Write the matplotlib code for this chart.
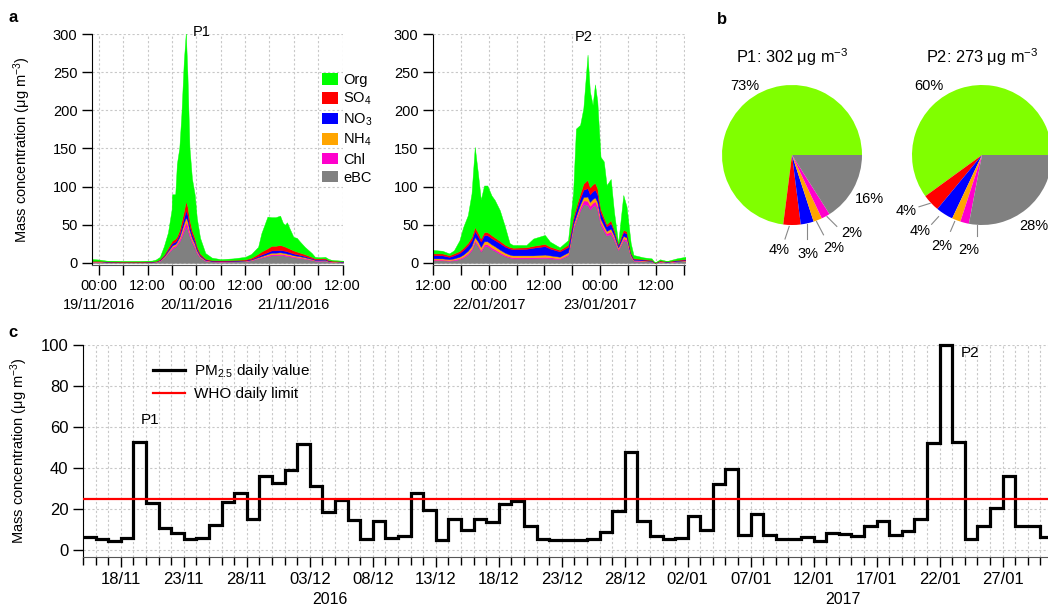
import datetime as dt
import numpy as np
import matplotlib
matplotlib.use("Agg")
import matplotlib.pyplot as plt
import matplotlib.dates as mdates
import matplotlib.transforms as mtransforms
from matplotlib.patches import Patch
from matplotlib.lines import Line2D
from matplotlib.ticker import FixedLocator, MultipleLocator

plt.rcParams['font.family'] = ['Liberation Sans', 'DejaVu Sans']
plt.rcParams['mathtext.fontset'] = 'custom'
plt.rcParams['mathtext.rm'] = 'Liberation Sans'
plt.rcParams['mathtext.it'] = 'Liberation Sans:italic'
plt.rcParams['mathtext.bf'] = 'Liberation Sans:bold'
plt.rcParams['font.size'] = 10

# ---------------- data ----------------
species = ["Org", "SO$_4$", "NO$_3$", "NH$_4$", "Chl", "eBC"]

# Episode P1: hours after 19/11/2016 00:00, concentrations in ug m-3
p1_hours = [-2, 0, 2, 6, 10, 13, 14, 15, 16, 17,
            17.9, 18.0, 18.8, 19.2, 19.8, 20.3, 20.9, 21.4, 21.8, 22.3,
            22.9, 23.6, 24.1, 24.9, 26.2, 27.8, 30, 33, 36, 37.5,
            39.2, 40, 41.5, 42.5, 43.5, 44.6, 45.3, 45.8, 46.3, 47,
            47.9, 48.7, 49.5, 50.7, 52.4, 53.2, 54.5, 55.7, 56.5, 57.3,
            60, 61]
p1_ebc = [1.5, 1.5, 1.2, 1.0, 1.0, 1.2, 1.5, 3, 7, 13,
          18, 19, 21, 24, 28, 34, 42, 48, 44, 35,
          27, 20, 13, 7, 3, 2, 1.8, 2, 2.5, 3.5,
          6, 7, 9, 10, 10, 10.5, 10, 9.5, 9, 8.5,
          7.5, 7, 6.5, 5.5, 4, 3, 3, 3.2, 2, 1.5,
          1.2, 1.2]
p1_chl = [0.3, 0.3, 0.2, 0.2, 0.2, 0.2, 0.2, 0.4, 0.8, 1.3,
          2, 2, 2, 2, 3, 4, 5, 6, 5.5, 4,
          3, 2.5, 1.8, 1, 0.5, 0.3, 0.3, 0.3, 0.3, 0.5,
          0.8, 1, 1.2, 1.5, 1.5, 1.5, 1.5, 1.5, 1.5, 1.4,
          1.2, 1.1, 1, 0.9, 0.6, 0.5, 0.5, 0.5, 0.3, 0.3,
          0.2, 0.2]
p1_nh4 = [0.3, 0.3, 0.2, 0.2, 0.2, 0.2, 0.2, 0.4, 0.8, 1.3,
          2, 2, 2, 2, 3, 4, 5, 6, 5.5, 4,
          3, 2.5, 1.8, 1, 0.5, 0.3, 0.3, 0.3, 0.3, 0.5,
          0.8, 1, 1.5, 2, 2, 2, 2, 2, 1.8, 1.7,
          1.5, 1.4, 1.3, 1.1, 0.7, 0.5, 0.5, 0.5, 0.3, 0.3,
          0.2, 0.2]
p1_no3 = [0.3, 0.3, 0.2, 0.2, 0.2, 0.2, 0.3, 0.5, 1, 2,
          3, 3, 3, 3, 4, 5, 7, 9, 8, 6,
          4.5, 3.5, 2.5, 1.5, 0.7, 0.5, 0.4, 0.5, 0.6, 0.8,
          1.5, 2, 2.5, 3, 3, 3, 3, 3, 3, 2.5,
          2.2, 2, 1.8, 1.5, 1, 0.8, 0.8, 0.8, 0.5, 0.4,
          0.3, 0.3]
p1_so4 = [0.4, 0.4, 0.3, 0.3, 0.3, 0.3, 0.3, 0.7, 1.4, 2.4,
          3, 3, 4, 4, 5, 7, 9, 12, 11, 8,
          5.5, 4, 3, 2, 1, 0.7, 0.7, 0.9, 1, 1.5,
          3, 4, 5, 6, 6, 6.5, 6, 5.5, 5, 4.5,
          4, 3.5, 3, 2.5, 1.7, 1.2, 1.2, 1.3, 0.8, 0.6,
          0.5, 0.5]
p1_org = [2.5, 1.7, 0.9, 0.6, 0.6, 1.0, 2, 3, 11, 20,
          42, 61, 58, 95, 108, 140, 196, 221, 172, 94,
          68, 56.5, 37, 20.5, 7.3, 3.2, 1.5, 2, 3.3, 5,
          9, 24, 41.5, 37.5, 37.5, 38.5, 30, 28.5, 33, 26,
          17.6, 18, 14.4, 9.5, 5, 2, 1.5, 1.7, 1.5, 0.9,
          0.6, 0.6]

# Episode P2: hours after 22/01/2017 00:00
p2_hours = [-12, -10, -8.5, -7.5, -6.3, -5.5, -4.5, -3.7, -3.0, -2.3,
            -1.7, -1.0, -0.3, 0.6, 1.3, 2.4, 3.5, 4.5, 5.2, 8.1,
            9.6, 12.1, 13.2, 15.3, 17.1, 18.2, 18.8, 19.7, 20.4, 21.3,
            21.8, 22.4, 22.9, 23.4, 24.1, 24.8, 25.4, 26.3, 27.0, 27.9,
            29.0, 29.7, 30.6, 31.2, 33.3, 35.1, 35.8, 36.9, 38.4, 40.5,
            42.3, 43]
p2_ebc = [3.5, 3.5, 3, 3.5, 5, 7, 11, 17, 28, 22,
          15, 22, 22, 18, 16, 12, 9, 7, 6, 6,
          6, 6.5, 6, 5, 10, 45, 55, 69, 77, 76,
          70, 74, 76, 70, 50, 42, 36, 38, 30, 17,
          30, 28, 8, 3, 2.5, 2, 0.2, 1.7, 1, 2,
          2.5, 2.5]
p2_chl = [1, 1, 0.8, 1, 1.2, 1.5, 2, 2, 2, 2,
          2, 2.5, 2.5, 2.5, 2, 2, 1.5, 1.5, 1.5, 1.5,
          1.5, 1.5, 1.5, 1.2, 1.5, 2.5, 3, 4, 5, 5.5,
          5, 5, 5, 5, 4, 3.5, 3, 3.5, 3, 1.5,
          2.5, 2.5, 1, 0.5, 0.4, 0.3, 0.05, 0.3, 0.2, 0.3,
          0.4, 0.4]
p2_nh4 = [1.5, 1.5, 1.2, 1.5, 2, 2.5, 3, 3.5, 4, 4,
          4, 4, 4, 4, 4, 3.5, 3, 2.5, 2.5, 2.5,
          2.5, 3, 2.5, 2, 2.5, 3, 3.5, 4, 4.5, 5.5,
          5, 5, 5, 5, 4, 3.5, 3, 3.5, 3, 2,
          3, 3, 1.5, 0.7, 0.5, 0.4, 0.05, 0.3, 0.2, 0.4,
          0.5, 0.5]
p2_no3 = [4, 4, 3, 4, 5, 6, 7, 7.5, 8, 7,
          7, 8, 8, 8, 8, 8.5, 8, 8, 8, 8.5,
          10, 11, 9, 7, 7, 6, 7, 8, 9.5, 11,
          10, 10, 10, 10, 8, 7, 6, 7, 5, 3,
          5, 5, 2, 1.3, 1, 0.8, 0.05, 0.6, 0.4, 0.8,
          1, 1]
p2_so4 = [2.5, 2.5, 2, 2.5, 2.5, 3, 3.5, 4, 5, 4.5,
          4, 4, 4, 4, 3.5, 3, 2.5, 2, 2, 2,
          2.5, 3, 2.5, 2, 3, 4, 5, 6, 8, 11,
          9, 9, 9, 8, 5, 4, 3, 4, 3, 1.5,
          3, 3, 1, 0.8, 0.7, 0.6, 0.05, 0.5, 0.3, 0.6,
          0.8, 0.8]
p2_org = [4.5, 3.5, 2.5, 4, 14, 27, 36, 57, 105, 77,
          51, 61, 61, 52, 49, 40, 23.6, 5, 3.6, 3,
          9.5, 11.7, 6.5, 3.3, 6, 32.5, 102.5, 90, 99, 164,
          126, 104, 129, 114, 68, 73, 51, 54, 23, 1,
          45.5, 32.5, 12.5, 4.2, 2.3, 1.9, 0.1, 1.4, 0.5, 1.9,
          2.8, 2.8]

# Peak composition (%), order: Org, SO4, NO3, NH4, Chl, eBC
p1_peak_total = 302
p2_peak_total = 273
p1_share = [73, 4, 3, 2, 2, 16]
p2_share = [60, 4, 4, 2, 2, 28]

# Daily PM2.5, 15/11/2016 - 30/01/2017
pm25_start = "2016-11-15"
pm25_daily = [6.2, 5.4, 4.6, 5.9, 52.8, 22.8, 10.6, 8.5, 5.2, 5.7,
              12.0, 23.4, 28.0, 15.1, 36.3, 32.5, 39.2, 51.5, 31.0, 18.5,
              24.2, 14.6, 5.2, 14.1, 5.7, 6.8, 28.0, 19.5, 4.9, 15.1,
              9.8, 15.1, 13.8, 22.4, 23.9, 11.7, 5.4, 4.9, 4.9, 4.7,
              5.4, 8.8, 18.9, 47.8, 14.1, 7.0, 5.5, 6.0, 16.7, 9.6,
              32.2, 39.5, 7.2, 17.4, 7.2, 5.4, 5.2, 6.3, 4.6, 8.1,
              8.0, 7.0, 11.7, 14.3, 7.2, 9.3, 15.1, 52.0, 100.0, 52.8,
              5.2, 11.9, 20.7, 36.1, 11.9, 11.5, 6.2]
who_limit = 25

# ---------------- styling ----------------
W, H = 1048, 607
stack_colors = ["#00FF00", "#FF0000", "#0000FF", "#FFA500", "#FF00CC", "#808080"]
pie_colors = ["#80FF00", "#FF0000", "#0000FF", "#FFA500", "#FF00CC", "#808080"]
grid_kw = dict(color="#c8c8c8", linestyle=(0, (2, 2)), linewidth=0.8)
ylabel = "Mass concentration (μg m$^{-3}$)"


def px_axes(x0, y0, x1, y1):
    """Axes from pixel box (left, top, right, bottom)."""
    return fig.add_axes([x0 / W, 1 - y1 / H, (x1 - x0) / W, (y1 - y0) / H])


fig = plt.figure(figsize=(W / 100, H / 100), dpi=100)


def stacked(ax, t, layers):
    base = np.zeros(len(t))
    # draw from bottom (eBC) to top (Org)
    for vals, col in zip(layers[::-1], stack_colors[::-1]):
        top = base + np.asarray(vals, float)
        ax.fill_between(t, base, top, facecolor=col, edgecolor=col, linewidth=0.3)
        base = top


def style_time_axis(ax, lim, majors, labels, dates, dotted_left):
    ax.set_xlim(*lim)
    ax.set_ylim(-2, 300)
    ax.xaxis.set_major_locator(FixedLocator(majors))
    ax.xaxis.set_minor_locator(MultipleLocator(6))
    ax.set_xticklabels(labels)
    ax.yaxis.set_major_locator(MultipleLocator(50))
    ax.grid(True, which="both", axis="x", **grid_kw)
    ax.grid(True, which="major", axis="y", **grid_kw)
    ax.set_axisbelow(True)
    for s in ("top", "right"):
        ax.spines[s].set_visible(False)
    ax.spines["bottom"].set_color("#555555")
    if dotted_left:
        ax.spines["left"].set_linestyle((0, (1, 1)))
    ax.tick_params(which="both", direction="out", length=7, width=1, labelsize=10.5)
    # calendar dates on a second row under the midnight ticks
    trans = mtransforms.blended_transform_factory(ax.transData, ax.transAxes)
    for x, d in dates:
        ax.text(x, -0.176, d, transform=trans, ha="center", va="center", fontsize=10.5)


# ---------------- panel a ----------------
axa1 = px_axes(92, 34, 343, 264.5)
stacked(axa1, p1_hours, [p1_org, p1_so4, p1_no3, p1_nh4, p1_chl, p1_ebc])
style_time_axis(axa1, (-1.7, 60.1), [0, 12, 24, 36, 48, 60],
                ["00:00", "12:00", "00:00", "12:00", "00:00", "12:00"],
                [(0, "19/11/2016"), (24, "20/11/2016"), (48, "21/11/2016")],
                dotted_left=False)
axa1.set_ylabel(ylabel, fontsize=10.5)
axa1.yaxis.set_label_coords(-0.235, 0.5)
axa1.text(23.2, 303, "P1", ha="left", va="center", fontsize=10.5, clip_on=False)

axa2 = px_axes(433, 34, 685, 264.5)
stacked(axa2, p2_hours, [p2_org, p2_so4, p2_no3, p2_nh4, p2_chl, p2_ebc])
style_time_axis(axa2, (-12, 42.3), [-12, 0, 12, 24, 36],
                ["12:00", "00:00", "12:00", "00:00", "12:00"],
                [(0, "22/01/2017"), (24, "23/01/2017")],
                dotted_left=True)
axa2.text(20.5, 296, "P2", ha="center", va="center", fontsize=10.5, clip_on=False)

handles = [Patch(facecolor=c, edgecolor="none", label=s) for s, c in zip(species, stack_colors)]
fig.legend(handles=handles, loc="upper left", bbox_to_anchor=(322 / W, 1 - 73 / H),
           frameon=False, fontsize=10.5, handlelength=1.1, handleheight=0.85,
           handletextpad=0.35, labelspacing=0.28, borderpad=0, borderaxespad=0)

# ---------------- panel b ----------------
def pie_panel(cx, cy, r, share, total, tag, label_pos, leaders):
    ax = px_axes(cx - r, cy - r, cx + r, cy + r)
    ax.pie(share, colors=pie_colors, startangle=0, counterclock=True, radius=1,
           wedgeprops=dict(linewidth=0))
    ax.set_xlim(-1, 1)
    ax.set_ylim(-1, 1)
    ax.set_aspect("auto")
    ax.axis("off")
    for v, (lx, ly) in zip(share, label_pos):
        ax.text(lx, ly, f"{v}%", ha="center", va="center", fontsize=10.5, clip_on=False)
    for (x0, y0, x1, y1) in leaders:
        ax.plot([x0, x1], [y0, y1], color="#888888", lw=0.8, clip_on=False)
    fig.text(cx / W, 1 - 57 / H, f"{tag}: {total} μg m$^{{-3}}$", ha="center",
             va="center", fontsize=11.8)


pie_panel(792, 155, 70, p1_share, p1_peak_total, "P1",
          [(-0.67, 0.99), (-0.19, -1.36), (0.23, -1.41), (0.6, -1.33),
           (0.86, -1.12), (1.11, -0.63)],
          [(-0.04, -1.02, -0.1, -1.2), (0.22, -0.99, 0.22, -1.2),
           (0.35, -0.95, 0.45, -1.14), (0.5, -0.88, 0.64, -1.02)])
pie_panel(982, 155, 70, p2_share, p2_peak_total, "P2",
          [(-0.76, 0.99), (-1.09, -0.8), (-0.88, -1.08), (-0.57, -1.3),
           (-0.19, -1.35), (0.74, -1.02)],
          [(-0.74, -0.69, -0.9, -0.74), (-0.62, -0.88, -0.72, -0.99),
           (-0.39, -0.95, -0.45, -1.09), (-0.07, -1.0, -0.07, -1.15)])

# ---------------- panel c ----------------
axc = px_axes(83, 345, 1048, 557)
start = dt.datetime.fromisoformat(pm25_start)
edges = [start + dt.timedelta(days=i) for i in range(len(pm25_daily) + 1)]
edge_num = mdates.date2num(edges)
axc.stairs(pm25_daily, edge_num, baseline=None, color="black", linewidth=2.3,
           clip_on=False, label="PM$_{2.5}$ daily value", zorder=3)
axc.axhline(who_limit, color="#FF0000", linewidth=1.6, label="WHO daily limit", zorder=4)
axc.set_xlim(edge_num[0], edge_num[0] + 76.6)
axc.set_ylim(-3.4, 100)
axc.yaxis.set_major_locator(MultipleLocator(20))
major_days = mdates.date2num([start + dt.timedelta(days=3 + 5 * i) for i in range(15)])
axc.xaxis.set_major_locator(FixedLocator(major_days))
axc.xaxis.set_major_formatter(mdates.DateFormatter("%d/%m"))
axc.xaxis.set_minor_locator(mdates.DayLocator())
axc.grid(True, which="both", axis="x", **grid_kw)
axc.grid(True, which="major", axis="y", **grid_kw)
axc.set_axisbelow(True)
for s in ("top", "right"):
    axc.spines[s].set_visible(False)
axc.spines["left"].set_linestyle((0, (1, 1)))
axc.spines["bottom"].set_color("#555555")
axc.tick_params(which="major", direction="out", length=7, width=1, labelsize=12)
axc.tick_params(which="minor", direction="out", length=6, width=1)
axc.set_ylabel(ylabel, fontsize=10.5)
axc.yaxis.set_label_coords(-0.055, 0.5)
axc.text(start + dt.timedelta(days=5.3), 63.4, "P1", ha="center", va="center", fontsize=11)
axc.text(start + dt.timedelta(days=70.4), 96, "P2", ha="center", va="center", fontsize=11)
axc.legend(handles=[Line2D([], [], color="black", lw=2.3, label="PM$_{2.5}$ daily value"),
                    Line2D([], [], color="#FF0000", lw=1.6, label="WHO daily limit")],
           loc="upper left", bbox_to_anchor=(70 / 965, 1 - 17 / 212), frameon=False,
           fontsize=11, handlelength=2.1, handletextpad=0.6, labelspacing=0.45,
           borderpad=0, borderaxespad=0)
fig.text(330 / W, 1 - 600 / H, "2016", ha="center", va="center", fontsize=11.5)
fig.text(843 / W, 1 - 600 / H, "2017", ha="center", va="center", fontsize=11.5)

# panel letters
for letter, x, y in (("a", 13, 18), ("b", 722, 20), ("c", 13, 333)):
    fig.text(x / W, 1 - y / H, letter, ha="center", va="center", fontsize=12, fontweight="bold")

fig.savefig("out.png", dpi=100)
